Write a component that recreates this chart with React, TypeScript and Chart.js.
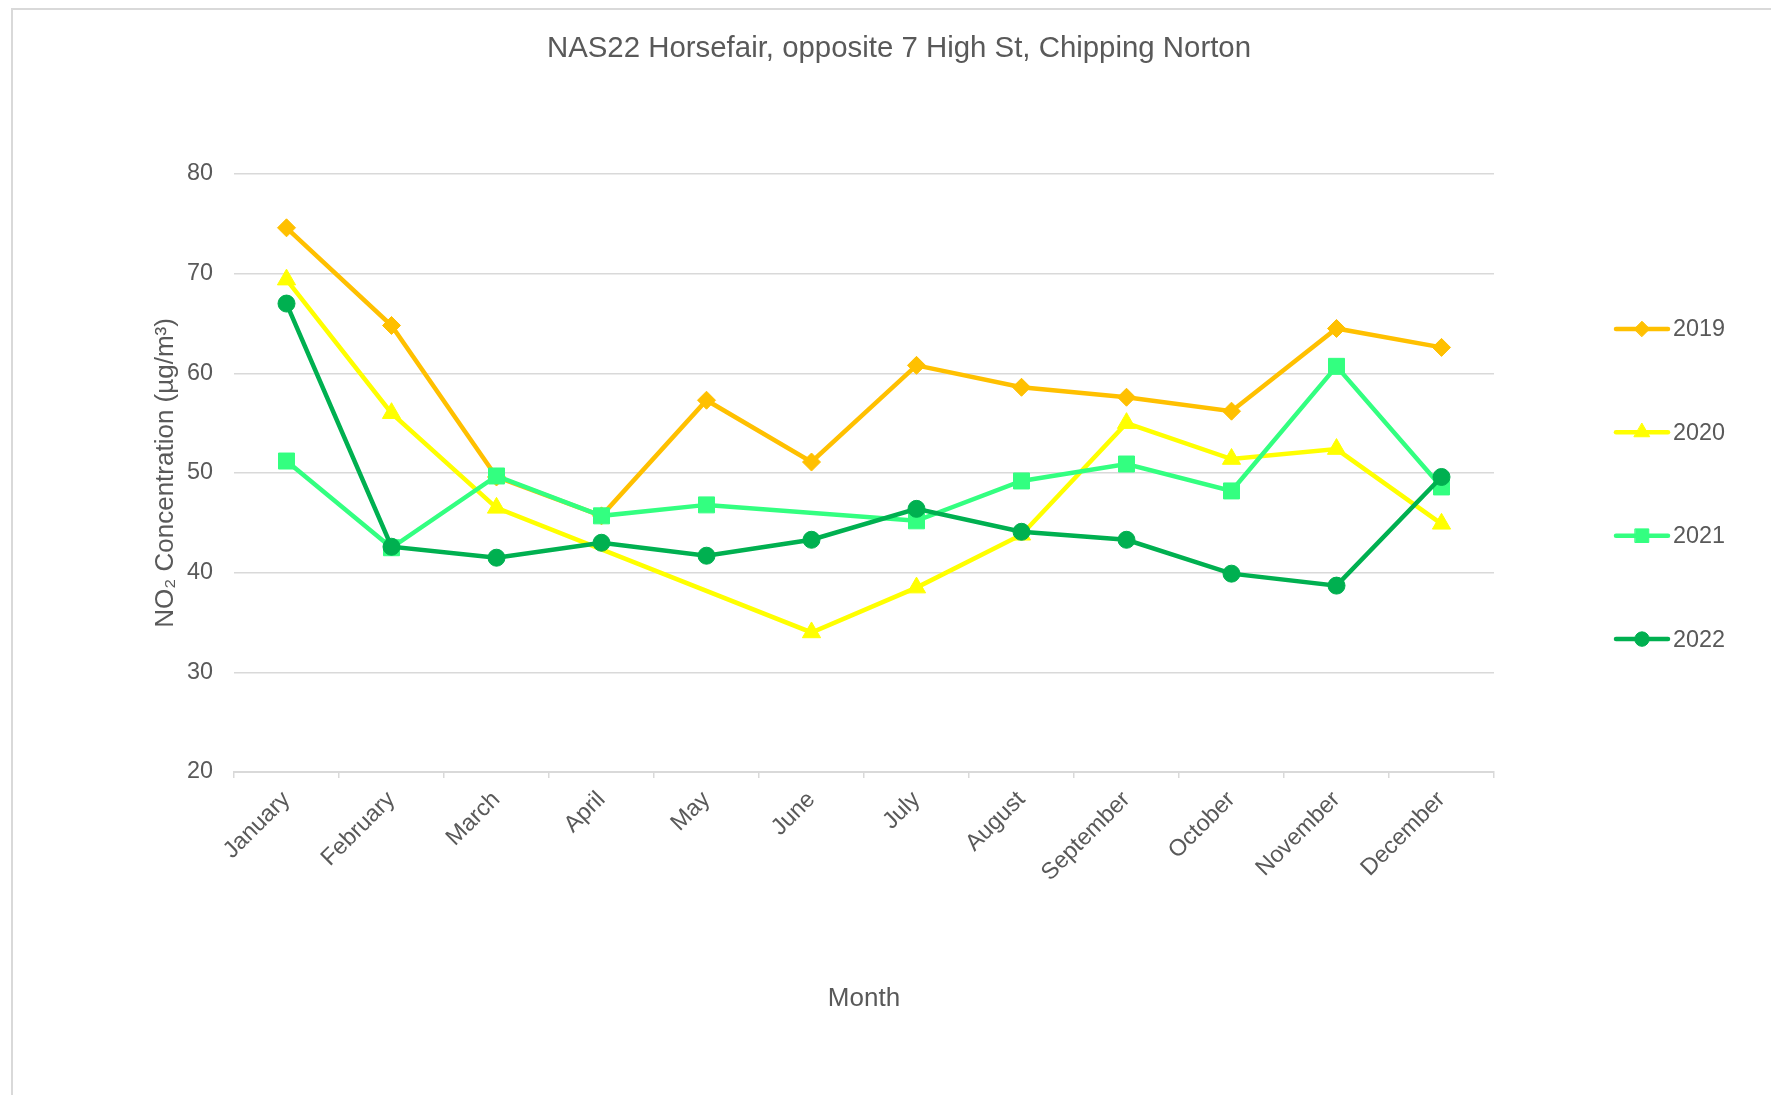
import { useEffect, useRef } from 'react';
import { Chart, registerables } from 'chart.js';

Chart.register(...registerables);

const TITLE = 'NAS22 Horsefair, opposite 7 High St, Chipping Norton';
const X_TITLE = 'Month';
const Y_TITLE = 'NO₂ Concentration (µg/m³)';

const months = [
  'January', 'February', 'March', 'April', 'May', 'June',
  'July', 'August', 'September', 'October', 'November', 'December',
];

const seriesLabels = ['2019', '2020', '2021', '2022'];

const values2019 = [74.6, 64.8, 49.6, 45.7, 57.3, 51.1, 60.8, 58.6, 57.6, 56.2, 64.5, 62.6];
const values2020 = [69.4, 56.0, 46.5, null, null, 34.0, 38.5, 43.8, 55.0, 51.4, 52.4, 44.9];
const values2021 = [51.2, 42.5, 49.7, 45.7, 46.8, null, 45.2, 49.2, 50.9, 48.2, 60.7, 48.6];
const values2022 = [67.0, 42.6, 41.5, 43.0, 41.7, 43.3, 46.4, 44.1, 43.3, 39.9, 38.7, 49.6];

const yTicks = [20, 30, 40, 50, 60, 70, 80];

const seriesValues = [values2019, values2020, values2021, values2022];
const seriesColors = ['#FFC000', '#FFFF00', '#33FF80', '#00B050'];
const seriesStyles = ['rectRot', 'triangle', 'rect', 'circle'];
const seriesRadii = [9, 10.5, 11.3, 8.5];

const FONT = '"Liberation Sans", Arial, Helvetica, sans-serif';
const TEXT = '#595959';
const GRID = '#d9d9d9';

function drawMarker(ctx: CanvasRenderingContext2D, style: string, x: number, y: number, r: number) {
  ctx.beginPath();
  if (style === 'rectRot') {
    ctx.moveTo(x - r, y);
    ctx.lineTo(x, y - r);
    ctx.lineTo(x + r, y);
    ctx.lineTo(x, y + r);
    ctx.closePath();
  } else if (style === 'triangle') {
    const h = r * Math.sqrt(3) / 2;
    ctx.moveTo(x, y - r);
    ctx.lineTo(x + h, y + r / 2);
    ctx.lineTo(x - h, y + r / 2);
    ctx.closePath();
  } else if (style === 'rect') {
    const s = r * Math.SQRT1_2;
    ctx.rect(x - s, y - s, 2 * s, 2 * s);
  } else {
    ctx.arc(x, y, r, 0, Math.PI * 2);
  }
  ctx.fill();
  ctx.stroke();
}

const backgroundPlugin = {
  id: 'bgBorder',
  beforeDraw(chart: any) {
    const { ctx, width, height } = chart;
    ctx.save();
    ctx.fillStyle = '#ffffff';
    ctx.fillRect(0, 0, width, height);
    ctx.strokeStyle = GRID;
    ctx.lineWidth = 2;
    ctx.strokeRect(12, 9, width + 20, height + 20);
    ctx.restore();
  },
};

const legendPlugin = {
  id: 'excelLegend',
  afterDraw(chart: any) {
    const { ctx, chartArea } = chart;
    const datasets = chart.data.datasets;
    const x0 = chartArea.right + 120;
    const lineLen = 56;
    const step = 103.4;
    const midY = (chartArea.top + chartArea.bottom) / 2 + 11;
    ctx.save();
    datasets.forEach((d: any, i: number) => {
      const y = midY + (i - (datasets.length - 1) / 2) * step;
      ctx.strokeStyle = d.borderColor;
      ctx.lineWidth = 4.5;
      ctx.lineCap = 'round';
      ctx.beginPath();
      ctx.moveTo(x0 + 2, y);
      ctx.lineTo(x0 + lineLen - 2, y);
      ctx.stroke();
      ctx.fillStyle = d.borderColor;
      ctx.lineWidth = 1;
      drawMarker(ctx, d.pointStyle, x0 + lineLen / 2, y, d.pointRadius * 0.85);
      ctx.fillStyle = TEXT;
      ctx.font = `23.4px ${FONT}`;
      ctx.textAlign = 'left';
      ctx.textBaseline = 'middle';
      ctx.fillText(d.label, x0 + lineLen + 3, y + 1);
    });
    ctx.restore();
  },
};

export default function App() {
  const canvasRef = useRef<HTMLCanvasElement>(null);

  useEffect(() => {
    const canvas = canvasRef.current;
    if (!canvas) return;
    Chart.defaults.font.family = FONT;
    Chart.defaults.color = TEXT;

    const datasets = seriesLabels.map((label, i) => ({
      label,
      data: seriesValues[i],
      borderColor: seriesColors[i],
      backgroundColor: seriesColors[i],
      pointBackgroundColor: seriesColors[i],
      pointBorderColor: seriesColors[i],
      pointBorderWidth: 1,
      pointStyle: seriesStyles[i],
      pointRadius: seriesRadii[i],
      borderWidth: 4.5,
      tension: 0,
      spanGaps: true,
      fill: false,
      yAxisID: 'y',
      order: seriesLabels.length - i,
    }));

    const chart = new Chart(canvas, {
      type: 'line',
      data: { labels: months, datasets },
      options: {
        responsive: false,
        animation: false,
        devicePixelRatio: 1,
        layout: { padding: { left: 27, right: 0, top: 0, bottom: 0 } },
        plugins: {
          legend: { display: false },
          tooltip: { enabled: false },
          title: {
            display: true,
            text: TITLE,
            color: TEXT,
            font: { size: 29.4, weight: 'normal', family: FONT },
            padding: { top: 31.5, bottom: 107.2 },
          },
        },
        scales: {
          x: {
            offset: true,
            grid: {
              offset: true,
              drawOnChartArea: false,
              drawTicks: true,
              tickLength: 6,
              color: GRID,
              lineWidth: 1.5,
            },
            border: { display: true, color: GRID, width: 2 },
            ticks: {
              autoSkip: false,
              maxRotation: 45,
              minRotation: 45,
              padding: 8,
              color: TEXT,
              font: { size: 23.4, family: FONT },
            },
            title: {
              display: true,
              text: X_TITLE,
              color: TEXT,
              font: { size: 26, family: FONT },
              padding: { top: 0, bottom: 81 },
            },
            afterFit: (scale: any) => {
              scale.height = 323;
            },
          },
          y: {
            position: 'left',
            min: yTicks[0],
            max: yTicks[yTicks.length - 1],
            afterBuildTicks: (scale: any) => {
              scale.ticks = yTicks.map((v) => ({ value: v }));
            },
            grid: { color: GRID, lineWidth: 1.5, drawTicks: false },
            border: { display: false },
            ticks: {
              padding: 21,
              color: TEXT,
              font: { size: 23.4, family: FONT },
            },
            title: {
              display: true,
              text: Y_TITLE,
              color: TEXT,
              font: { size: 26, family: FONT },
              padding: { top: 123.4, bottom: 0 },
            },
            afterFit: (scale: any) => {
              scale.width = 207;
            },
          },
          legendSpace: {
            type: 'linear',
            position: 'right',
            display: true,
            grid: { display: false, drawTicks: false },
            border: { display: false },
            ticks: { display: false },
            afterFit: (scale: any) => {
              scale.width = 277;
            },
          },
        },
      } as any,
      plugins: [backgroundPlugin, legendPlugin],
    });

    return () => {
      chart.destroy();
    };
  }, []);

  return (
    <div style={{ position: 'fixed', left: 0, top: 0, width: 1771, height: 1095, background: '#fff' }}>
      <canvas ref={canvasRef} width={1771} height={1095} style={{ display: 'block' }} />
    </div>
  );
}
